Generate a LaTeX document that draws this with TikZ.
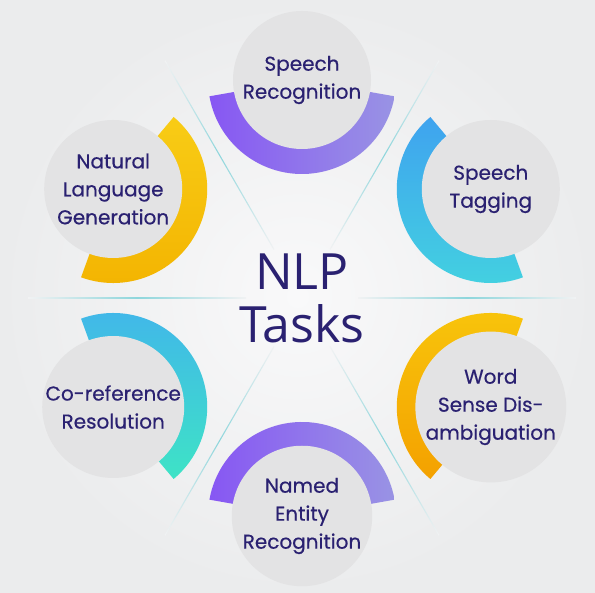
\documentclass[tikz,border=0pt]{standalone}
\usepackage{fontspec}
\setmainfont{Open Sans}
\newfontfamily\medfont{Poppins}[FakeBold=0.5]
\definecolor{bgA}{HTML}{F9F9FA}
\definecolor{bgB}{HTML}{EBECED}
\definecolor{bg}{HTML}{F1F2F3}
\definecolor{navy}{HTML}{2A2171}
\definecolor{cgray}{HTML}{E3E3E4}
\definecolor{lc}{HTML}{8ED6DC}
\definecolor{purA}{HTML}{8757F3}
\definecolor{purB}{HTML}{9993E4}
\definecolor{bluA}{HTML}{3FA3EF}
\definecolor{bluB}{HTML}{43D2E0}
\definecolor{oraA}{HTML}{F8C60C}
\definecolor{oraB}{HTML}{F4A100}
\definecolor{teaA}{HTML}{41B6EA}
\definecolor{teaB}{HTML}{3EE3C6}
\definecolor{yelA}{HTML}{F8CC16}
\definecolor{yelB}{HTML}{F3B300}
\tikzset{
  taskcircle/.style={circle, fill=cgray, minimum size=138pt, inner sep=0pt,
    align=center, text=navy, font=\medfont\fontsize{20}{28}\selectfont},
  centertext/.style={align=center, text=navy, font=\fontsize{50}{53}\selectfont},
}
\newcommand\taskitem[4]{%
  \coordinate (#2c) at ([shift={(#1:218)}]nlp.center);
  \path[#3] ([shift={(#1+100:94)}]#2c) arc[start angle=#1+100, end angle=#1+260, radius=94]
    -- ([shift={(#1+260:66)}]#2c) arc[start angle=#1+260, end angle=#1+100, radius=66] -- cycle;
  \node[taskcircle] (#2) at (#2c) {#4};
}
\begin{document}
\begin{tikzpicture}[x=1pt,y=1pt]
\useasboundingbox (0,0) rectangle (595,593);
\shade[inner color=bgA, outer color=bgB] (0,0) rectangle (595,593);
\node[centertext] (nlp) at (302,295) {NLP\\Tasks};
\foreach \a in {0,60,120,180,240,300}{
  \shade[transform canvas={shift={(302,295)}, rotate=\a}, left color=bg, right color=bg, middle color=lc]
    (56,-0.55) rectangle (274,0.55);
}
\taskitem{90}{sr}{left color=purA, right color=purB}{Speech\\Recognition}
\taskitem{30}{st}{top color=bluA, bottom color=bluB}{Speech\\Tagging}
\taskitem{-30}{ws}{top color=oraA, bottom color=oraB}{Word\\Sense Dis-\\ambiguation}
\taskitem{270}{ne}{left color=purA, right color=purB}{Named\\Entity\\Recognition}
\taskitem{210}{cr}{top color=teaA, bottom color=teaB}{Co-reference\\Resolution}
\taskitem{150}{nlg}{top color=yelA, bottom color=yelB}{Natural\\Language\\Generation}
\end{tikzpicture}
\end{document}
